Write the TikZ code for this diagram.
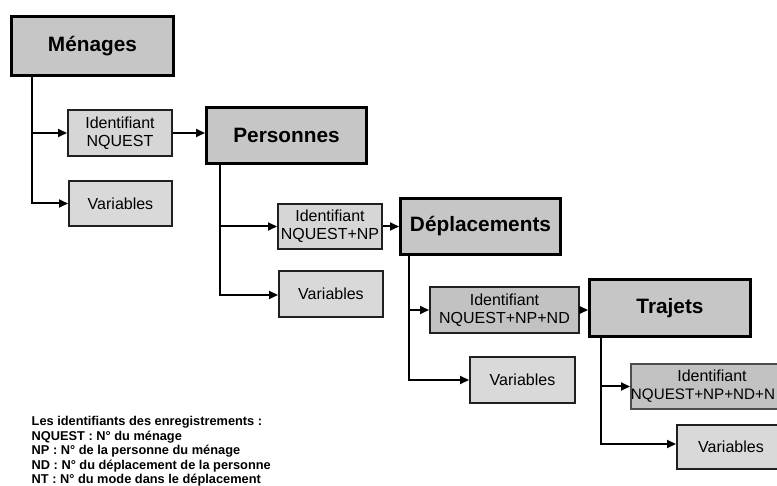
\documentclass[tikz,border=0pt]{standalone}
\usepackage{fontspec}
\setmainfont{Liberation Sans}
\usetikzlibrary{arrows.meta}
\definecolor{mainfill}{HTML}{C6C6C6}
\definecolor{idfill}{HTML}{D6D6D6}
\definecolor{iddark}{HTML}{C2C2C2}
\definecolor{varfill}{HTML}{D9D9D9}
\definecolor{bord}{HTML}{202020}
\tikzset{
  mainbox/.style={draw=black, line width=3pt, fill=mainfill, inner sep=0pt,
    font=\fontsize{20.8}{24}\selectfont\bfseries},
  idbox/.style={draw=bord, line width=2pt, fill=idfill, inner sep=0pt, align=center,
    font=\fontsize{16}{18}\selectfont},
  varbox/.style={draw=bord, line width=2pt, fill=varfill, inner sep=0pt,
    font=\fontsize{16}{18}\selectfont},
  conn/.style={line width=2pt, -{Triangle[length=9pt,width=8pt]}},
}
\begin{document}
\begin{tikzpicture}[x=1pt,y=-1pt]
\path[use as bounding box] (0,0) rectangle (777,486);
\clip (0,0) rectangle (777,486);
\fill[white] (0,0) rectangle (777,486);

% main boxes
\node[mainbox, minimum width=162pt, minimum height=59pt] (men) at (92.5,46) {Ménages};
\node[mainbox, minimum width=160pt, minimum height=56pt] (pers) at (286.5,135.5) {Personnes};
\node[mainbox, minimum width=160pt, minimum height=56pt] (depl) at (480.5,226.5) {Déplacements};
\node[mainbox, minimum width=161pt, minimum height=57pt] (traj) at (670,308) {Trajets};

% identifiant / variables boxes
\node[idbox, minimum width=104pt, minimum height=46pt] (id1) at (120,133) {Identifiant\\NQUEST};
\node[varbox, minimum width=103pt, minimum height=45pt] (var1) at (120.5,203.5) {Variables};
\node[idbox, minimum width=104pt, minimum height=45pt] (id2) at (330,226.5) {Identifiant\\NQUEST+NP};
\node[varbox, minimum width=104pt, minimum height=46pt] (var2) at (331,294) {Variables};
\node[idbox, fill=iddark, minimum width=149pt, minimum height=46pt] (id3) at (504.5,310) {Identifiant\\NQUEST+NP+ND};
\node[varbox, minimum width=105pt, minimum height=46pt] (var3) at (522.5,380) {Variables};
\node[idbox, fill=iddark, draw=bord!80, minimum width=162pt, minimum height=45pt] (id4) at (712,386.5) {Identifiant\\\hspace*{-18pt}{\fontsize{15.2}{18}\selectfont NQUEST+NP+ND+N}};
\node[varbox, minimum width=108pt, minimum height=44pt] (var4) at (731,447) {Variables};

% connectors
\coordinate (c1) at ([xshift=22pt]men.south west);
\draw[conn] (c1) |- (var1.west);
\draw[conn] (c1 |- id1.west) -- (id1.west);
\draw[conn] (id1.east) -- (id1.east -| pers.west);

\coordinate (c2) at ([xshift=15pt]pers.south west);
\draw[conn] (c2) |- ([yshift=-1pt]var2.west);
\draw[conn] (c2 |- id2.west) -- (id2.west);
\draw[conn] (id2.east) -- (id2.east -| depl.west);

\coordinate (c3) at ([xshift=10pt]depl.south west);
\draw[conn] (c3) |- (var3.west);
\draw[conn] (c3 |- id3.west) -- (id3.west);
\draw[conn] (id3.east) -- (id3.east -| traj.west);

\coordinate (c4) at ([xshift=13pt]traj.south west);
\draw[conn] (c4) |- ([yshift=3pt]var4.west);
\draw[conn] (c4 |- id4.west) -- (id4.west);

% legend
\node[anchor=north west, inner sep=0pt, align=left,
  font=\fontsize{12.8}{14.6}\selectfont\bfseries] (leg) at (31.5,416)
  {Les identifiants des enregistrements :\\
   NQUEST : N° du ménage\\
   NP : N° de la personne du ménage\\
   ND : N° du déplacement de la personne\\
   NT : N° du mode dans le déplacement};
\end{tikzpicture}
\end{document}
